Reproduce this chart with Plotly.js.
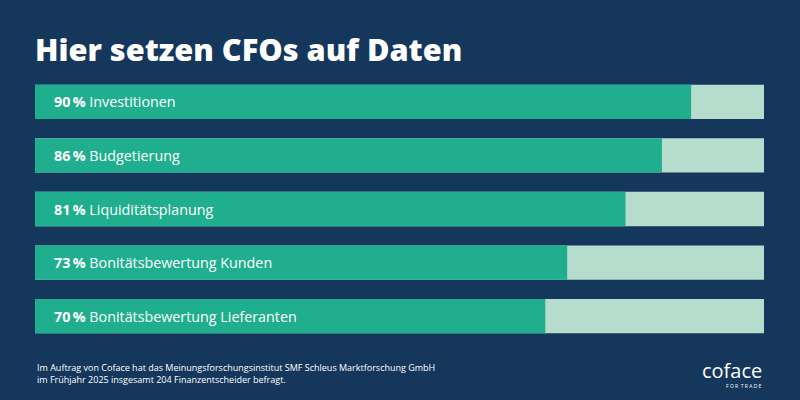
<!DOCTYPE html>
<html>
<head>
<meta charset="utf-8">
<script src="https://cdn.plot.ly/plotly-3.0.1.min.js"></script>
<style>
html,body{margin:0;padding:0;background:#15375c;}
#chart{width:800px;height:400px;}
</style>
</head>
<body>
<div id="chart"></div>
<script>
const categories = ["Investitionen", "Budgetierung", "Liquiditätsplanung", "Bonitätsbewertung Kunden", "Bonitätsbewertung Lieferanten"];
const values = [90, 86, 81, 73, 70];
const totals = [100, 100, 100, 100, 100];

const bg = "#15375c";
const green = "#1fae8e";
const light = "#b5dccc";

const track = {
  type: "bar", orientation: "h",
  y: categories, x: totals,
  marker: {color: light},
  hoverinfo: "skip", showlegend: false
};
const main = {
  type: "bar", orientation: "h",
  y: categories, x: values,
  marker: {color: green},
  hoverinfo: "skip", showlegend: false
};

const annotations = categories.map((c, i) => ({
  x: 0, y: c, xref: "x", yref: "y",
  xanchor: "left", yanchor: "middle", xshift: 17,
  showarrow: false, align: "left",
  text: "<b>" + values[i] + "\u2009%</b> " + c,
  font: {family: "'Open Sans', sans-serif", size: 14.3, color: "#ffffff"}
}));

annotations.push({
  xref: "paper", yref: "paper", x: 0, y: -0.06, xanchor: "left", yanchor: "top",
  showarrow: false, align: "left",
  text: "Im Auftrag von Coface hat das Meinungsforschungsinstitut SMF Schleus Marktforschung GmbH<br>im Frühjahr 2025 insgesamt 204 Finanzentscheider befragt.",
  font: {family: "'Open Sans', sans-serif", size: 9, color: "#ffffff"}
});
annotations.push({
  xref: "paper", yref: "paper", x: 1, y: -0.045, xanchor: "right", yanchor: "top",
  showarrow: false, align: "right",
  text: "coface",
  font: {family: "'Open Sans', sans-serif", size: 20, color: "#ffffff"}
});
annotations.push({
  xref: "paper", yref: "paper", x: 1, y: -0.14, xanchor: "right", yanchor: "top",
  showarrow: false, align: "right",
  text: "F O R  T R A D E",
  font: {family: "'Open Sans', sans-serif", size: 5, color: "#ffffff"}
});

const layout = {
  width: 800, height: 400,
  paper_bgcolor: bg, plot_bgcolor: bg,
  margin: {l: 35, r: 36, t: 75, b: 57},
  barmode: "overlay", bargap: 0.36,
  title: {
    text: "Hier setzen CFOs auf Daten",
    x: 35/800, xanchor: "left", y: 0.875, yanchor: "middle",
    font: {family: "'Open Sans', sans-serif", size: 30.7, color: "#ffffff", weight: 800}
  },
  xaxis: {range: [0, 100], visible: false, fixedrange: true},
  yaxis: {autorange: "reversed", visible: false, fixedrange: true},
  annotations: annotations
};

Plotly.newPlot("chart", [track, main], layout, {displayModeBar: false, staticPlot: true});
</script>
</body>
</html>
